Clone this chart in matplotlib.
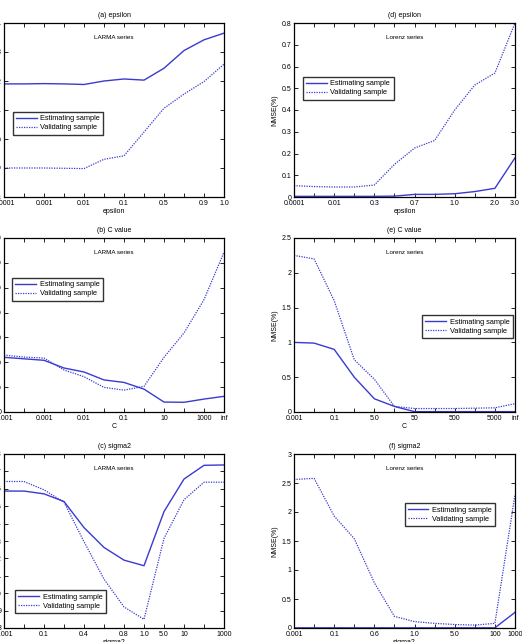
import matplotlib

matplotlib.use("Agg")
import matplotlib.pyplot as plt
from matplotlib.ticker import FormatStrFormatter

plt.rcParams["font.family"] = ["Liberation Sans", "DejaVu Sans"]

# x categories (12 points each, only some of them labelled)
eps_left_labels = ["0.0001", "", "0.001", "", "0.01", "", "0.1", "", "0.5", "", "0.9", "1.0"]
c_left_labels = ["0.001", "", "0.001", "", "0.01", "", "0.1", "", "10", "", "1000", "inf"]
sig_left_labels = ["0.001", "", "0.1", "", "0.4", "", "0.8", "1.0", "5.0", "10", "", "1000"]
eps_right_labels = ["0.0001", "", "0.01", "", "0.3", "", "0.7", "", "1.0", "", "2.0", "3.0"]
c_right_labels = ["0.001", "", "0.1", "", "5.0", "", "50", "", "500", "", "5000", "inf"]
sig_right_labels = ["0.001", "", "0.1", "", "0.6", "", "1.0", "", "5.0", "", "100", "1000"]

# LARMA series
eps_larma_est = [21.90, 21.90, 21.91, 21.90, 21.88, 22.00, 22.07, 22.03, 22.44, 23.05, 23.42, 23.65]
eps_larma_val = [19.00, 19.00, 19.00, 18.99, 18.98, 19.30, 19.42, 20.24, 21.06, 21.55, 21.98, 22.58]
c_larma_est = [22.0, 21.4, 20.8, 17.7, 16.1, 12.9, 11.9, 9.2, 4.0, 3.9, 5.2, 6.3]
c_larma_val = [22.9, 22.1, 21.7, 16.9, 14.2, 9.9, 8.8, 10.3, 22.0, 31.8, 45.2, 64.3]
sig_larma_est = [15.87, 15.87, 15.71, 15.27, 13.77, 12.63, 11.90, 11.58, 14.69, 16.56, 17.35, 17.37]
sig_larma_val = [16.42, 16.42, 15.94, 15.23, 12.96, 10.81, 9.21, 8.50, 13.15, 15.37, 16.38, 16.38]

# Lorenz series
eps_lor_est = [0.003, 0.003, 0.003, 0.003, 0.003, 0.004, 0.012, 0.012, 0.015, 0.025, 0.04, 0.18]
eps_lor_val = [0.052, 0.048, 0.046, 0.046, 0.055, 0.15, 0.225, 0.26, 0.40, 0.515, 0.57, 0.80]
c_lor_est = [1.0, 0.99, 0.90, 0.50, 0.19, 0.08, 0.005, 0.005, 0.005, 0.005, 0.005, 0.005]
c_lor_val = [2.25, 2.20, 1.60, 0.75, 0.47, 0.08, 0.05, 0.05, 0.05, 0.055, 0.06, 0.12]
sig_lor_est = [0.003, 0.003, 0.003, 0.003, 0.003, 0.003, 0.003, 0.003, 0.003, 0.003, 0.003, 0.27]
sig_lor_val = [2.56, 2.58, 1.93, 1.54, 0.78, 0.20, 0.11, 0.08, 0.06, 0.05, 0.08, 2.30]

LINE_COLOR = "#3a3ad0"
W, H = 522, 642


def draw_panel(rect, labels, est, val, title, series, xlabel, ylim, yticks,
               legend_xy, ylabel=None, yfmt=None):
    ax = fig.add_axes(rect)
    x = list(range(len(labels)))
    ax.plot(x, est, color=LINE_COLOR, lw=1.0, label="Estimating sample")
    ax.plot(x, val, color=LINE_COLOR, lw=0.9, linestyle=(0, (1, 1)),
            label="Validating sample")
    ax.set_xlim(0, len(labels) - 1)
    ax.set_ylim(*ylim)
    ax.set_xticks(x)
    ax.set_xticklabels(labels)
    ax.set_yticks(yticks)
    if yfmt:
        ax.yaxis.set_major_formatter(FormatStrFormatter(yfmt))
    ax.tick_params(direction="in", top=True, right=True, length=3, width=0.6,
                   labelsize=5, pad=2)
    for s in ax.spines.values():
        s.set_linewidth(0.9)
    ax.set_title(title, fontsize=5, pad=4)
    ax.set_xlabel(xlabel, fontsize=5, labelpad=1)
    if ylabel:
        ax.set_ylabel(ylabel, fontsize=5, labelpad=2)
    ax.text(0.5, 0.915, series, transform=ax.transAxes, ha="center",
            va="center", fontsize=4.5)
    leg = ax.legend(loc="upper left", bbox_to_anchor=legend_xy, fontsize=5.3,
                    fancybox=False, handlelength=2.8, borderpad=0.45,
                    labelspacing=0.25, handletextpad=0.5, borderaxespad=0)
    leg.get_frame().set_edgecolor("black")
    leg.get_frame().set_linewidth(1.0)
    return ax


fig = plt.figure(figsize=(W / 100, H / 100), dpi=100)

left_x, left_w = 4 / W, 220 / W
right_x, right_w = 294 / W, 221 / W
ph = 174 / H
rows = [(H - 197) / H, (H - 412) / H, (H - 628) / H]

draw_panel([left_x, rows[0], left_w, ph], eps_left_labels, eps_larma_est,
           eps_larma_val, "(a) epsilon", "LARMA series", "epsilon",
           (18, 24), range(18, 25), (0.04, 0.49))
draw_panel([left_x, rows[1], left_w, ph], c_left_labels, c_larma_est,
           c_larma_val, "(b) C value", "LARMA series", "C",
           (0, 70), range(0, 71, 10), (0.036, 0.77))
draw_panel([left_x, rows[2], left_w, ph], sig_left_labels, sig_larma_est,
           sig_larma_val, "(c) sigma2", "LARMA series", "sigma2",
           (8, 18), range(8, 19), (0.05, 0.218))

draw_panel([right_x, rows[0], right_w, ph], eps_right_labels, eps_lor_est,
           eps_lor_val, "(d) epsilon", "Lorenz series", "epsilon",
           (0, 0.8), [i / 10 for i in range(9)], (0.04, 0.69),
           ylabel="NMSE(%)", yfmt="%g")
draw_panel([right_x, rows[1], right_w, ph], c_right_labels, c_lor_est,
           c_lor_val, "(e) C value", "Lorenz series", "C",
           (0, 2.5), [i / 2 for i in range(6)], (0.58, 0.557),
           ylabel="NMSE(%)", yfmt="%g")
draw_panel([right_x, rows[2], right_w, ph], sig_right_labels, sig_lor_est,
           sig_lor_val, "(f) sigma2", "Lorenz series", "sigma2",
           (0, 3), [i / 2 for i in range(7)], (0.50, 0.718),
           ylabel="NMSE(%)", yfmt="%g")

fig.savefig("out.png", dpi=100)
